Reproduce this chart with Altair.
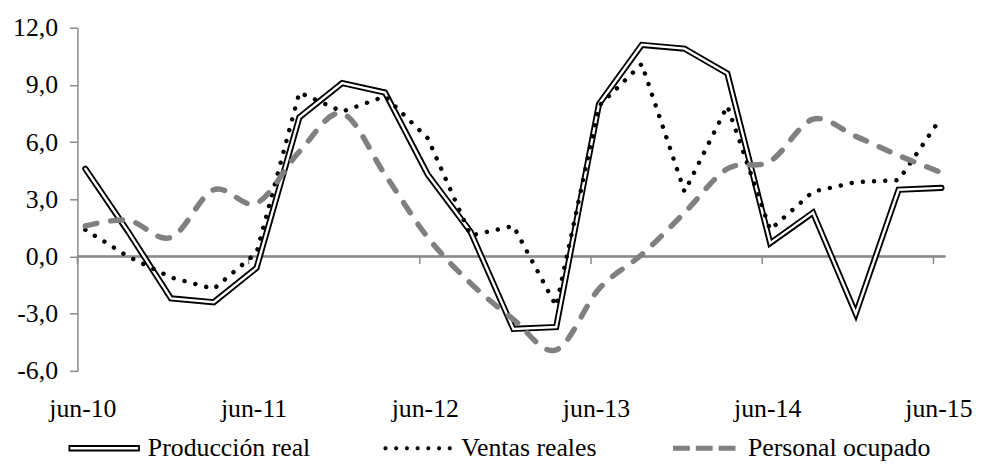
import json
import math
import altair as alt
import pandas as pd

# ---------------- data ----------------
fechas = ["jun-10", "sep-10", "dic-10", "mar-11", "jun-11", "sep-11", "dic-11",
          "mar-12", "jun-12", "sep-12", "dic-12", "mar-13", "jun-13", "sep-13",
          "dic-13", "mar-14", "jun-14", "sep-14", "dic-14", "mar-15", "jun-15"]
produccion = [4.6, 1.3, -2.2, -2.4, -0.6, 7.3, 9.1, 8.6, 4.3, 1.3, -3.8,
              -3.7, 8.0, 11.1, 10.9, 9.6, 0.7, 2.3, -3.0, 3.5, 3.6]
ventas = [1.4, 0.0, -1.1, -1.7, 0.2, 8.6, 7.6, 8.4, 6.2, 1.1, 1.6,
          -2.6, 7.9, 10.1, 3.4, 7.9, 1.4, 3.4, 3.9, 4.0, 7.3]
personal = [1.6, 1.9, 1.0, 3.5, 2.8, 5.5, 7.5, 4.3, 1.0, -1.4, -3.3,
            -4.9, -1.7, 0.1, 2.3, 4.6, 5.0, 7.2, 6.3, 5.3, 4.4]
series = ["Producción real", "Ventas reales", "Personal ocupado"]
y_ticks = [-6, -3, 0, 3, 6, 9, 12]

# ---------------- styles ----------------
FONT = "Liberation Serif"
FS = 26
AXIS_GRAY = "#8a8a8a"
DASH_GRAY = "#808080"
colores = ["#000000", "#000000", DASH_GRAY]


def rect(x0, x1, y0, y1, ccw=False):
    if ccw:
        return f"M{x0},{y0}V{y1}H{x1}V{y0}Z"
    return f"M{x0},{y0}H{x1}V{y1}H{x0}Z"


def octagon(cx, cy, r):
    pts = []
    for k in range(8):
        a = math.pi / 8 + k * math.pi / 4
        pts.append(f"{cx + r * math.cos(a):.4f},{cy + r * math.sin(a):.4f}")
    return "M" + "L".join(pts) + "Z"


# legend symbol shapes (unit coordinates, scaled by the legend symbol size)
shape_prod = rect(-1, 1, -0.09, 0.09) + rect(-0.95, 0.95, -0.032, 0.032, ccw=True)
shape_vent = "".join(octagon(-0.9 + 0.3 * k, 0, 0.06) for k in range(7))
shape_pers = (rect(-0.875, -0.403, -0.07, 0.07) + rect(-0.236, 0.236, -0.07, 0.07)
              + rect(0.403, 0.875, -0.07, 0.07))
formas = [shape_prod, shape_vent, shape_pers]

rows = []
for i, f in enumerate(fechas):
    for s, vals in zip(series, [produccion, ventas, personal]):
        rows.append({"idx": i, "fecha": f, "serie": s, "valor": vals[i]})
df = pd.DataFrame(rows)
jun_idx = [i for i, f in enumerate(fechas) if f.startswith("jun")]
ticks_df = pd.DataFrame({"idx": jun_idx})

x_scale = alt.Scale(domain=[-0.185, 20.09], nice=False, zero=False)
y_scale = alt.Scale(domain=[-6, 12], nice=False, zero=False)

x_enc = alt.X(
    "idx:Q", scale=x_scale,
    axis=alt.Axis(values=jun_idx, labelExpr=json.dumps(fechas) + "[datum.value]",
                  domain=False, ticks=False, grid=False, labelPadding=25,
                  labelOffset=-3, labelFont=FONT, labelFontSize=FS,
                  labelColor="black", title=None),
)
y_enc = alt.Y(
    "valor:Q", scale=y_scale,
    axis=alt.Axis(values=y_ticks,
                  labelExpr="replace(replace(format(datum.value, '.1f'), '.', ','), '\u2212', '-')",
                  grid=False, domainColor=AXIS_GRAY, domainWidth=1.5,
                  tickColor=AXIS_GRAY, tickWidth=1.5, tickSize=8, labelPadding=12,
                  labelFont=FONT, labelFontSize=FS, labelColor="black", title=None),
)

base = alt.Chart(df)


def serie(name):
    return base.transform_filter(alt.FieldEqualPredicate(field="serie", equal=name))


zero_line = alt.Chart(ticks_df).mark_rule(color=AXIS_GRAY, strokeWidth=1.5).encode(
    y=alt.datum(0)
)
x_ticks = alt.Chart(ticks_df).mark_rule(color=AXIS_GRAY, strokeWidth=1.5, xOffset=-8).encode(
    x=alt.X("idx:Q", scale=x_scale), y=alt.datum(0), y2=alt.datum(-0.4)
)

prod_black = serie(series[0]).mark_line(
    color="black", strokeWidth=6.2, strokeJoin="miter", strokeCap="round"
).encode(x=x_enc, y=y_enc)
prod_white = serie(series[0]).mark_line(
    color="white", strokeWidth=2.4, strokeJoin="miter", strokeCap="round"
).encode(x=x_enc, y=y_enc)
vent_line = serie(series[1]).mark_line(
    color="black", strokeWidth=4.5, strokeDash=[0.01, 11.3], strokeCap="round"
).encode(x=x_enc, y=y_enc)
pers_line = serie(series[2]).mark_line(
    color=DASH_GRAY, strokeWidth=5.5, strokeDash=[12, 14], strokeCap="round",
    interpolate="cardinal", tension=0
).encode(x=x_enc, y=y_enc)

legend_def = alt.Legend(
    orient="none", legendX=-9, legendY=388, direction="horizontal", columns=3,
    title=None, symbolSize=5184, symbolOpacity=1, symbolStrokeWidth=0,
    labelFont=FONT, labelFontSize=FS, labelColor="black", labelOffset=8,
    columnPadding=72, padding=0, labelLimit=0,
)
legend_layer = base.mark_point(filled=True, opacity=0).encode(
    x=x_enc, y=y_enc,
    color=alt.Color("serie:N", scale=alt.Scale(domain=series, range=colores), legend=legend_def),
    shape=alt.Shape("serie:N", scale=alt.Scale(domain=series, range=formas), legend=legend_def),
)

chart = alt.layer(
    zero_line, x_ticks, prod_black, prod_white, vent_line, pers_line, legend_layer
).properties(
    width=875, height=346,
    autosize=alt.AutoSizeParams(type="none"),
    padding={"left": 70, "top": 18, "right": 31, "bottom": 89},
    background="white",
).configure(font=FONT).configure_view(stroke=None)

chart.save("out.html", embed_options={"renderer": "svg", "actions": False})
